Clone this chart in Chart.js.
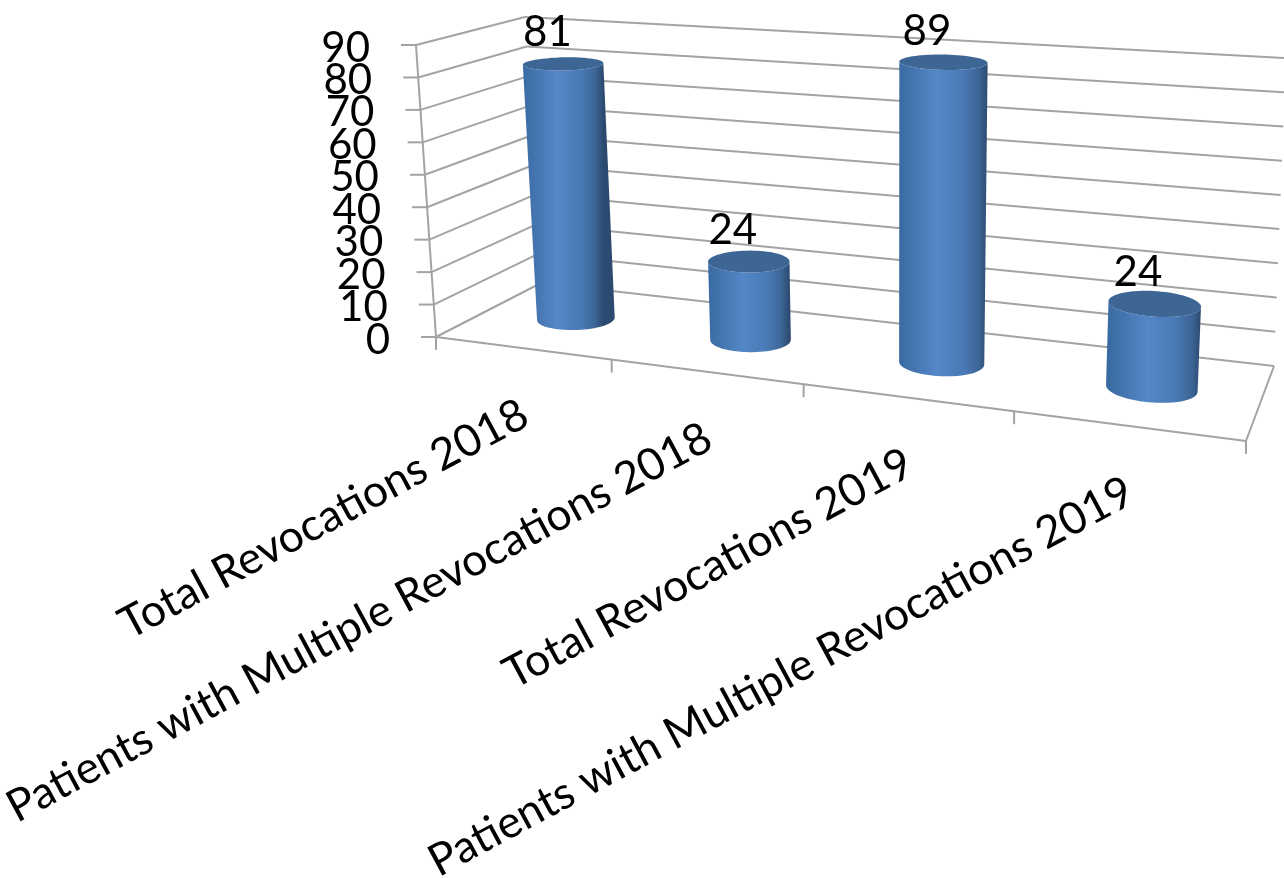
<!DOCTYPE html>
<html>
<head>
<meta charset="utf-8">
<title>Revocations</title>
<script src="https://cdn.jsdelivr.net/npm/chart.js@4"></script>
<style>
  html, body { margin: 0; padding: 0; background: #fff; }
  canvas { display: block; }
</style>
</head>
<body>
<canvas id="myChart" width="1284" height="878"></canvas>
<script>
// Chart data
const categories = [
    "Total Revocations 2018",
    "Patients with Multiple Revocations 2018",
    "Total Revocations 2019",
    "Patients with Multiple Revocations 2019"
];
const revocations = [81, 24, 89, 24];

// Corners of the 3D box on screen: f = front, b = back, B = bottom, T = top, L/R = left/right
const box = {
    fBL: [436, 337], fBR: [1246, 441], fTL: [416, 45], fTR: [1266, 103],
    bBL: [541, 283], bBR: [1274, 366], bTL: [525, 17], bTR: [1286, 58]
};
const perspective = 0.831;  // widths grow from left to right
const gridColor = "#a3a3a3";
const fontName = "Lato, Carlito, sans-serif";

function mix(a, b, t) {
    return [a[0] + (b[0] - a[0]) * t, a[1] + (b[1] - a[1]) * t];
}

// u: along the categories, d: depth, h: height (all 0..1)
function project(u, d, h) {
    const s = perspective * u / (1 + (perspective - 1) * u);
    const front = mix(mix(box.fBL, box.fBR, s), mix(box.fTL, box.fTR, s), h);
    const back = mix(mix(box.bBL, box.bBR, s), mix(box.bTL, box.bTR, s), h);
    return mix(front, back, d);
}

function line(ctx, a, b) {
    ctx.beginPath();
    ctx.moveTo(a[0], a[1]);
    ctx.lineTo(b[0], b[1]);
    ctx.stroke();
}

function drawWalls(chart) {
    const ctx = chart.ctx;
    const yScale = chart.scales.y;
    const xScale = chart.scales.x;
    const area = chart.chartArea;
    ctx.save();
    ctx.strokeStyle = gridColor;
    ctx.lineWidth = 2;

    // gridlines and value labels
    ctx.font = "42px " + fontName;
    ctx.fillStyle = "#000";
    ctx.textAlign = "right";
    ctx.textBaseline = "middle";
    yScale.ticks.forEach(tick => {
        const h = (area.bottom - yScale.getPixelForValue(tick.value)) / area.height;
        const p0 = project(0, 0, h);
        const p1 = project(0, 1, h);
        const p2 = project(1, 1, h);
        line(ctx, p0, p1);
        line(ctx, p1, p2);
        line(ctx, [p0[0] - 15, p0[1]], p0);
        ctx.fillText(tick.label, p0[0] - 46, p0[1] + 3);
    });
    line(ctx, project(0, 0, 0), project(0, 0, 1));

    // floor
    line(ctx, project(0, 0, 0), project(1, 0, 0));
    line(ctx, project(1, 0, 0), project(1, 1, 0));

    // ticks at the category boundaries
    for (let i = 0; i <= categories.length; i++) {
        const p = project(i / categories.length, 0, 0);
        line(ctx, p, [p[0], p[1] + 13]);
    }

    // rotated category labels
    ctx.font = "44.5px " + fontName;
    categories.forEach((label, i) => {
        const u = (xScale.getPixelForValue(i) - area.left) / area.width;
        const p = project(u, 0, 0);
        ctx.save();
        ctx.translate(p[0] + 3, p[1] + 63);
        ctx.rotate(-28.3 * Math.PI / 180);
        ctx.fillText(label, 0, 0);
        ctx.restore();
    });
    ctx.restore();
}

// Outline of a bar's disc at height h, as points
function disc(u, ru, h) {
    const points = [];
    for (let a = 0; a < 72; a++) {
        const t = a * Math.PI / 36;
        points.push(project(u + 0.004 + ru * Math.cos(t), 0.53 + 0.19 * Math.sin(t), h));
    }
    return points;
}

function tracePolygon(ctx, points) {
    ctx.beginPath();
    points.forEach((p, i) => i ? ctx.lineTo(p[0], p[1]) : ctx.moveTo(p[0], p[1]));
    ctx.closePath();
}

// Points of a disc on its front side, from its leftmost point to its rightmost
function frontArc(points) {
    let left = 0, right = 0;
    points.forEach((p, i) => {
        if (p[0] < points[left][0]) left = i;
        if (p[0] > points[right][0]) right = i;
    });
    if (right < left) right += points.length;
    const arc = [];
    for (let a = left; a <= right; a++) arc.push(points[a % points.length]);
    return arc;
}

function drawCylinder(chart, bar, value) {
    const ctx = chart.ctx;
    const area = chart.chartArea;
    const u = (bar.x - area.left) / area.width;
    const ru = bar.width / 2 / area.width;
    const top = (area.bottom - bar.y) / area.height;
    const bottom = (area.bottom - bar.base) / area.height;
    const topDisc = disc(u, ru, top);
    const bottomArc = frontArc(disc(u, ru, bottom));
    const topArc = frontArc(topDisc);

    const body = bottomArc.concat(topArc.slice().reverse());
    const gradient = ctx.createLinearGradient(topArc[0][0], 0, topArc[topArc.length - 1][0], 0);
    gradient.addColorStop(0, "#3a6aa2");
    gradient.addColorStop(0.14, "#4474ae");
    gradient.addColorStop(0.42, "#5487c8");
    gradient.addColorStop(0.72, "#4a7ab6");
    gradient.addColorStop(0.9, "#3c6596");
    gradient.addColorStop(1, "#2c4a70");
    ctx.fillStyle = gradient;
    tracePolygon(ctx, body);
    ctx.fill();

    ctx.fillStyle = "#3e6695";
    tracePolygon(ctx, topDisc);
    ctx.fill();

    // value above the bar
    const p = project(u, 0.53, top);
    ctx.fillStyle = "#000";
    ctx.font = "42px " + fontName;
    ctx.textAlign = "center";
    ctx.textBaseline = "middle";
    ctx.fillText(value, p[0] - 13, p[1] - 31);
}

const box3d = {
    id: "box3d",
    beforeDatasetsDraw(chart) {
        drawWalls(chart);
        chart.getDatasetMeta(0).data.forEach((bar, i) => {
            drawCylinder(chart, bar, revocations[i]);
        });
        return false;  // the bars are already drawn
    }
};

new Chart(document.getElementById("myChart"), {
    type: "bar",
    data: {
        labels: categories,
        datasets: [{
            data: revocations,
            backgroundColor: "#4f81bd",
            categoryPercentage: 1,
            barPercentage: 0.41
        }]
    },
    options: {
        responsive: false,
        animation: false,
        plugins: { legend: { display: false }, tooltip: { enabled: false } },
        scales: {
            x: { display: false },
            y: { display: false, min: 0, max: 90, ticks: { stepSize: 10 } }
        }
    },
    plugins: [box3d]
});
</script>
</body>
</html>
